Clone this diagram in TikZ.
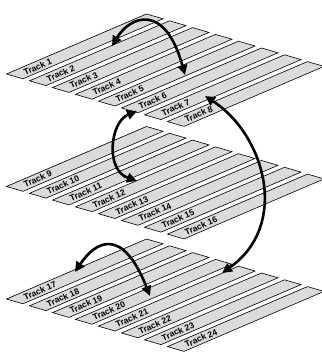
\documentclass[tikz,border=0pt]{standalone}
\usepackage{fontspec}
\setmainfont{Liberation Sans}
\usetikzlibrary{arrows.meta}
\definecolor{stripgray}{gray}{0.86}

\begin{document}
\begin{tikzpicture}[x=1pt, y=-1pt,
    strip/.style={draw=black, line width=0.6pt, fill=stripgray},
    tracklabel/.style={anchor=west, inner sep=0pt, rotate=23.5,
        font=\fontsize{8.6}{9}\selectfont\bfseries},
    swap/.style={line width=2.6pt,
        {Triangle[length=10pt,width=9.5pt]}-{Triangle[length=10pt,width=9.5pt]}}]
    \useasboundingbox (0,0) rectangle (321,353);

    % three layers, eight tracks each
    \foreach \layer/\by in {0/74, 1/186.5, 2/299}{
        \foreach \i in {0,...,7}{
            \pgfmathtruncatemacro{\n}{8*\layer+\i+1}
            \coordinate (tip\n) at (6.5+23*\i, \by+6.8*\i);
            \draw[strip] (tip\n) -- ++(140,-60) -- ++(16.5,4.8) -- ++(-140,60) -- cycle;
            \path (tip\n) ++(17.5,-1.4) node[tracklabel] (track\n) {Track \n};
        }
    }

    % ends of the arrows
    \coordinate (a1) at (112,46);
    \coordinate (a2) at (185,75);
    \coordinate (b1) at (137,111);
    \coordinate (b2) at (137,181);
    \coordinate (c1) at (205,96);
    \coordinate (c2) at (222,273);
    \coordinate (d1) at (75,272);
    \coordinate (d2) at (150,296);

    % swaps inside a layer and between layers
    \draw[swap] (a1) .. controls (130,16) and (165,2) .. (a2);
    \draw[swap] (b1) .. controls (110,122) and (105,170) .. (b2);
    \draw[swap] (c1) .. controls (265,135) and (290,225) .. (c2);
    \draw[swap] (d1) .. controls (95,242) and (122,225) .. (d2);

\end{tikzpicture}
\end{document}
